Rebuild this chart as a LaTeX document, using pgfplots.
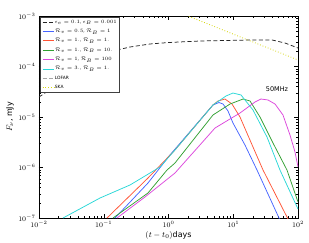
\documentclass[border=0pt]{standalone}
\usepackage{fontspec}
\setmainfont{DejaVu Sans}
\usepackage{pgfplots}
\pgfplotsset{compat=1.18}
\definecolor{cblue}{RGB}{70,100,255}
\definecolor{cred}{RGB}{255,85,55}
\definecolor{cgreen}{RGB}{50,160,50}
\definecolor{cmag}{RGB}{220,70,220}
\definecolor{ccyan}{RGB}{40,215,215}
\definecolor{cyell}{RGB}{215,215,20}
\begin{document}
\begin{tikzpicture}
\useasboundingbox (-39bp,-25bp) rectangle (270bp,218bp);
\begin{loglogaxis}[
  at={(0,0)}, anchor=south west,
  scale only axis, width=259bp, height=202bp,
  xmin=1e-2, xmax=1e2, ymin=1e-7, ymax=1e-3,
  major tick length=4bp, minor tick length=2bp,
  tick style={black, line width=0.4pt},
  axis line style={line width=0.8pt},
  ticklabel style={font=\fontsize{7}{8}\selectfont},
  label style={font=\fontsize{8}{9}\selectfont},
  xlabel={$(t-t_0)$days}, ylabel={$F_\nu$, mJy},
  xlabel style={at={(axis description cs:0.5,-0.085)}, anchor=center},
  ylabel style={at={(axis description cs:-0.112,0.5)}, anchor=center},
  legend cell align=left,
  legend style={at={(0.004,0.996)}, anchor=north west, draw=black!75, fill=white,
    font=\fontsize{4.4}{5.2}\selectfont, row sep=2.9pt, inner sep=2pt,
    nodes={inner sep=0.8pt}},
  legend image code/.code={\draw[line width=0.9pt,#1] (0bp,0bp) -- (11bp,0bp);},
  every axis plot/.append style={line width=0.75pt},
]
\addplot[black!85, dash pattern=on 4bp off 2.5bp] coordinates {
(0.01,2.489e-5) (0.01239,2.985e-5) (0.03162,6.607e-5) (0.0631,1.175e-4)
(0.1,1.660e-4) (0.139,2.028e-4) (0.254,2.432e-4) (0.518,2.793e-4)
(1.0,2.985e-4) (3.062,3.199e-4) (18.16,3.35e-4) (39.8,3.35e-4)
(63.1,2.917e-4) (100,2.323e-4)};
\addlegendentry{$\epsilon_e=0.1$, $\epsilon_B=0.001$}
\addplot[cblue] coordinates {
(0.1493,1e-7) (0.482,4.93e-7) (1.054,1.770e-6) (4.864,1.730e-5)
(6.026,1.936e-5) (6.95,1.807e-5) (8.30,1.315e-5) (9.908,7.60e-6)
(15.17,2.793e-6) (23.28,8.91e-7) (34.4,2.985e-7) (50.9,1e-7) (55,8e-8)};
\addlegendentry{$\mathcal{R}_v=0.5$, $\mathcal{R}_B=1$}
\addplot[cred] coordinates {
(0.1122,1e-7) (0.482,6.19e-7) (1.259,2.223e-6) (4.864,1.730e-5)
(5.82,2.075e-5) (7.46,2.270e-5) (9.57,1.807e-5) (12.71,1e-5)
(20.18,2.547e-6) (28.84,8.91e-7) (67.6,1.047e-7) (75,8e-8)};
\addlegendentry{$\mathcal{R}_v=1.$, $\mathcal{R}_B=1.$}
\addplot[cgreen] coordinates {
(0.139,1e-7) (0.482,3.126e-7) (0.9484,8.91e-7) (1.259,1.227e-6)
(4.864,1.096e-5) (8.91,1.807e-5) (14.16,2.270e-5) (18.16,2.075e-5)
(25.88,1e-5) (41.1,3.055e-6) (67.6,8.91e-7) (100,2.075e-7)};
\addlegendentry{$\mathcal{R}_v=1.$, $\mathcal{R}_B=10.$}
\addplot[cmag] coordinates {
(0.1603,1e-7) (0.4335,2.606e-7) (1.259,7.78e-7) (5.224,6.05e-6)
(12.71,1.2e-5) (21.68,1.982e-5) (26.85,2.270e-5) (34.4,2.173e-5)
(44.2,1.807e-5) (58.6,1.096e-5) (75.2,4.406e-6) (89.9,2.028e-6) (100,1.023e-6)};
\addlegendentry{$\mathcal{R}_v=1$, $\mathcal{R}_B=100$}
\addplot[ccyan] coordinates {
(0.0235,1e-7) (0.0875,2.489e-7) (0.254,4.50e-7) (0.7396,1.023e-6)
(1.259,2.223e-6) (4.864,1.730e-5) (7.73,2.606e-5) (9.908,2.985e-5)
(13.18,2.729e-5) (20.18,1.377e-5) (33.2,4.018e-6) (52.7,8.91e-7) (100,1.507e-7)};
\addlegendentry{$\mathcal{R}_v=3.$, $\mathcal{R}_B=1.$}
\addlegendimage{black!35, dash pattern=on 4bp off 2.5bp}
\addlegendentry{LOFAR}
\addplot[cyell, dotted, line width=0.9pt] coordinates {(1,1.426e-3) (100,1.346e-4)};
\addlegendentry{SKA}
\node[font=\fontsize{6.5}{7}\selectfont] at (axis cs:47.4,3.58e-5) {50MHz};
\end{loglogaxis}
\end{tikzpicture}
\end{document}
